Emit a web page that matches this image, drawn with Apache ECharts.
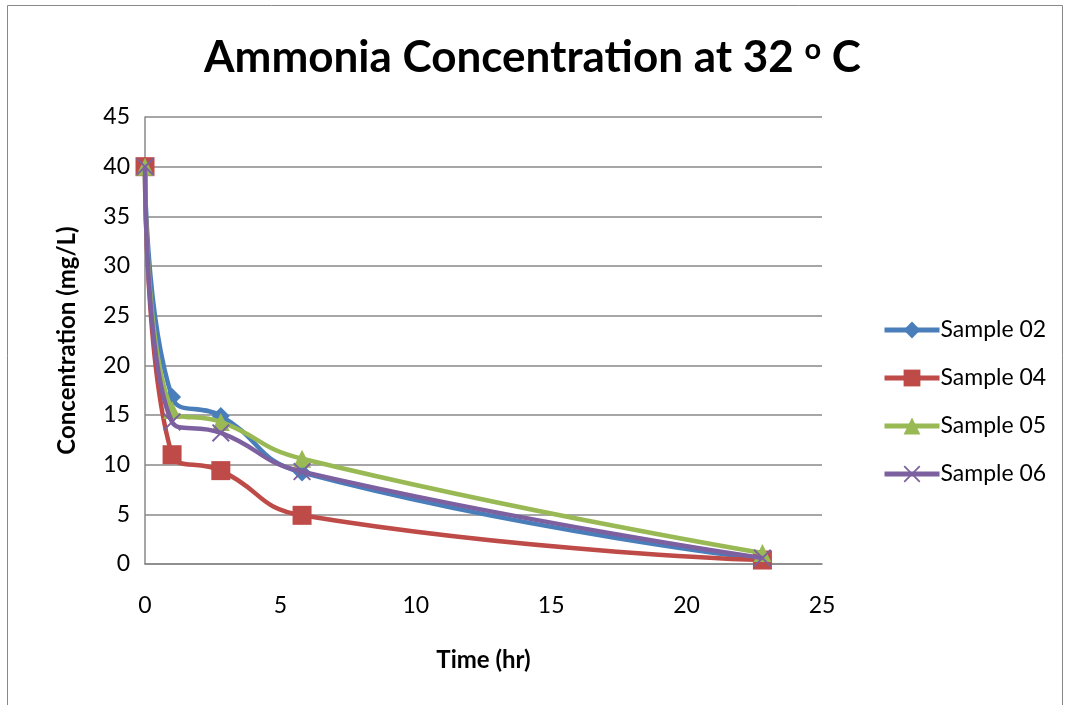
<!DOCTYPE html>
<html><head><meta charset="utf-8">
<script src="https://cdn.jsdelivr.net/npm/echarts@6/dist/echarts.min.js"></script>
<style>html,body{margin:0;padding:0;background:#fff}#c{width:1065px;height:705px}</style>
</head><body><div id="c"></div>
<script>
var seriesNames = ['Sample 02', 'Sample 04', 'Sample 05', 'Sample 06'];
var timeHr = [0, 1.0, 2.8, 5.8, 22.8];
var sample02 = [40, 16.8, 14.9, 9.2, 0.5];
var sample04 = [40, 11.0, 9.4, 4.9, 0.4];
var sample05 = [40, 15.5, 14.3, 10.6, 1.1];
var sample06 = [40, 14.3, 13.2, 9.3, 0.6];
var xTicks = [0, 5, 10, 15, 20, 25];
var yTicks = [0, 5, 10, 15, 20, 25, 30, 35, 40, 45];

var colors = ['#4A7EBB', '#BE4B48', '#98B954', '#7D60A0'];
var symbols = ['diamond', 'rect', 'triangle',
  'path://M0,1.5 L1.5,0 L10,8.5 L18.5,0 L20,1.5 L11.5,10 L20,18.5 L18.5,20 L10,11.5 L1.5,20 L0,18.5 L8.5,10 Z'];
var sizes = [18, 19, 18, 18];
var values = [sample02, sample04, sample05, sample06];
var FONT = 'Lato, "Open Sans", sans-serif';

var chart = echarts.init(document.getElementById('c'));
chart.setOption({
  animation: false,
  backgroundColor: '#fff',
  title: {
    text: 'Ammonia Concentration at 32 {sup|o} C',
    left: 'center', top: 30,
    textStyle: {
      fontFamily: FONT, fontSize: 44, fontWeight: 'bold', color: '#000',
      rich: { sup: { fontFamily: FONT, fontSize: 29, fontWeight: 'bold', color: '#000', verticalAlign: 'top', padding: [0, 0, 16, 0] } }
    }
  },
  graphic: [{
    type: 'rect', shape: { x: 7.5, y: 5.5, width: 1055, height: 710 },
    style: { fill: 'none', stroke: '#888', lineWidth: 1 }, silent: true
  }],
  legend: {
    orient: 'vertical', left: 877, top: 311,
    itemWidth: 55, itemHeight: 21, itemGap: 20,
    data: seriesNames,
    lineStyle: { width: 5 },
    textStyle: { fontFamily: FONT, fontSize: 23, color: '#000', lineHeight: 28, padding: [0, 0, 0, -4] }
  },
  grid: { left: 145, right: 243, top: 117, bottom: 141 },
  xAxis: {
    type: 'value', min: xTicks[0], max: xTicks[xTicks.length - 1], interval: 5,
    name: 'Time (hr)', nameLocation: 'middle', nameGap: 84,
    nameTextStyle: { fontFamily: FONT, fontSize: 24, fontWeight: 'bold', color: '#000' },
    axisLine: { show: true, lineStyle: { color: '#888', width: 1.5 } },
    axisTick: { show: false },
    splitLine: { show: false },
    axisLabel: { fontFamily: FONT, fontSize: 23, color: '#000', margin: 30 }
  },
  yAxis: {
    type: 'value', min: yTicks[0], max: yTicks[yTicks.length - 1], interval: 5,
    name: 'Concentration (mg/L)', nameLocation: 'middle', nameGap: 66,
    nameTextStyle: { fontFamily: FONT, fontSize: 24, fontWeight: 'bold', color: '#000' },
    axisLine: { show: true, lineStyle: { color: '#888', width: 1.5 } },
    axisTick: { show: false },
    splitLine: { show: true, lineStyle: { color: '#888', width: 1.5 } },
    axisLabel: { fontFamily: FONT, fontSize: 23, color: '#000', margin: 15 }
  },
  series: seriesNames.map(function (n, i) {
    return {
      name: n, type: 'line', smooth: 0.5,
      data: timeHr.map(function (t, j) { return [t, values[i][j]]; }),
      symbol: symbols[i], symbolSize: sizes[i], showAllSymbol: true,
      lineStyle: { color: colors[i], width: 4.5 },
      itemStyle: { color: colors[i], borderWidth: 0 },
      z: 2 + i
    };
  })
});
</script></body></html>
